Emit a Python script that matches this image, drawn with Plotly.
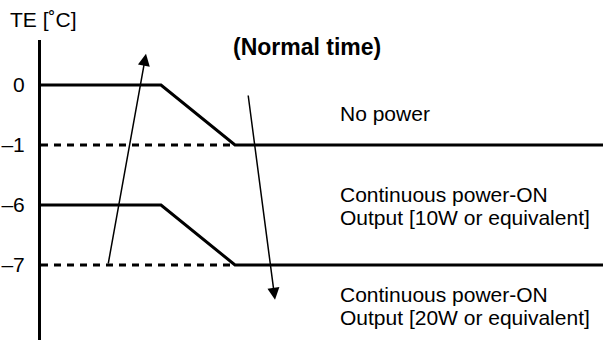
import plotly.graph_objects as go

# Temperature levels (label text) placed bottom-to-top on evenly spaced rows
level_labels = ["\u20137", "\u20136", "\u20131", "0"]
level_rows = [0, 1, 2, 3]
row_of = dict(zip(level_labels, level_rows))

# Time breakpoints (arbitrary units): hold, end of ramp, end of chart
t_hold = 120
t_settle = 194
t_end = 562

# Solid profiles: start level -> settled level
profiles = [("0", "\u20131"), ("\u20136", "\u20137")]
# Dashed reference lines at the settled levels
dashed_levels = ["\u20131", "\u20137"]

# Region captions, one entry per text line (text, row position)
caption_lines = [
    ("No power", 2.525),
    ("Continuous power-ON", 1.183),
    ("Output [10W or equivalent]", 0.792),
    ("Continuous power-ON", -0.492),
    ("Output [20W or equivalent]", -0.867),
]

FONT = "Liberation Sans, Arial, sans-serif"

fig = go.Figure()

for lvl in dashed_levels:
    fig.add_trace(go.Scatter(
        x=[0, t_settle], y=[row_of[lvl], row_of[lvl]], mode="lines",
        line=dict(color="black", width=3, dash="7px,6px"),
        hoverinfo="skip", showlegend=False))

for start, end in profiles:
    fig.add_trace(go.Scatter(
        x=[0, t_hold, t_settle, t_end],
        y=[row_of[start], row_of[start], row_of[end], row_of[end]],
        mode="lines", line=dict(color="black", width=3),
        hoverinfo="skip", showlegend=False))

# Arrows: rising temperature and falling temperature
arrows = [((67, 0), (105, 3.52)), ((207, 2.85), (234, -0.58))]
for (x0, y0), (x1, y1) in arrows:
    fig.add_annotation(
        x=x1, y=y1, ax=x0, ay=y0, xref="x", yref="y", axref="x", ayref="y",
        text="", showarrow=True, arrowhead=2, arrowsize=1.6, arrowwidth=1.5,
        arrowcolor="black", standoff=0, startstandoff=0)

for text, y in caption_lines:
    fig.add_annotation(
        x=297, y=y, xref="x", yref="y", text=text, showarrow=False,
        xanchor="left", yanchor="middle", align="left",
        font=dict(family=FONT, size=21, color="black"))

fig.add_annotation(
    x=265.5, y=3.633, xref="x", yref="y", text="<b>(Normal time)</b>",
    showarrow=False, xanchor="center", yanchor="middle",
    font=dict(family=FONT, size=23, color="black"))

fig.add_annotation(
    x=-33 / 562, y=1 + 20.5 / 300, xref="paper", yref="paper",
    text="TE [\u02daC]", showarrow=False, xanchor="left", yanchor="middle",
    font=dict(family=FONT, size=21, color="black"))

fig.update_layout(
    width=603, height=343,
    margin=dict(l=41, r=0, t=40, b=3),
    paper_bgcolor="white", plot_bgcolor="white",
    xaxis=dict(range=[0, t_end], visible=False, fixedrange=True),
    yaxis=dict(
        range=[-1.25, 3.75], tickmode="array", tickvals=level_rows,
        ticktext=level_labels, showgrid=False, zeroline=False,
        showline=True, linecolor="black", linewidth=3, ticks="",
        ticklabelstandoff=9, fixedrange=True,
        tickfont=dict(family=FONT, size=21, color="black")),
)

fig.write_html("out.html")
